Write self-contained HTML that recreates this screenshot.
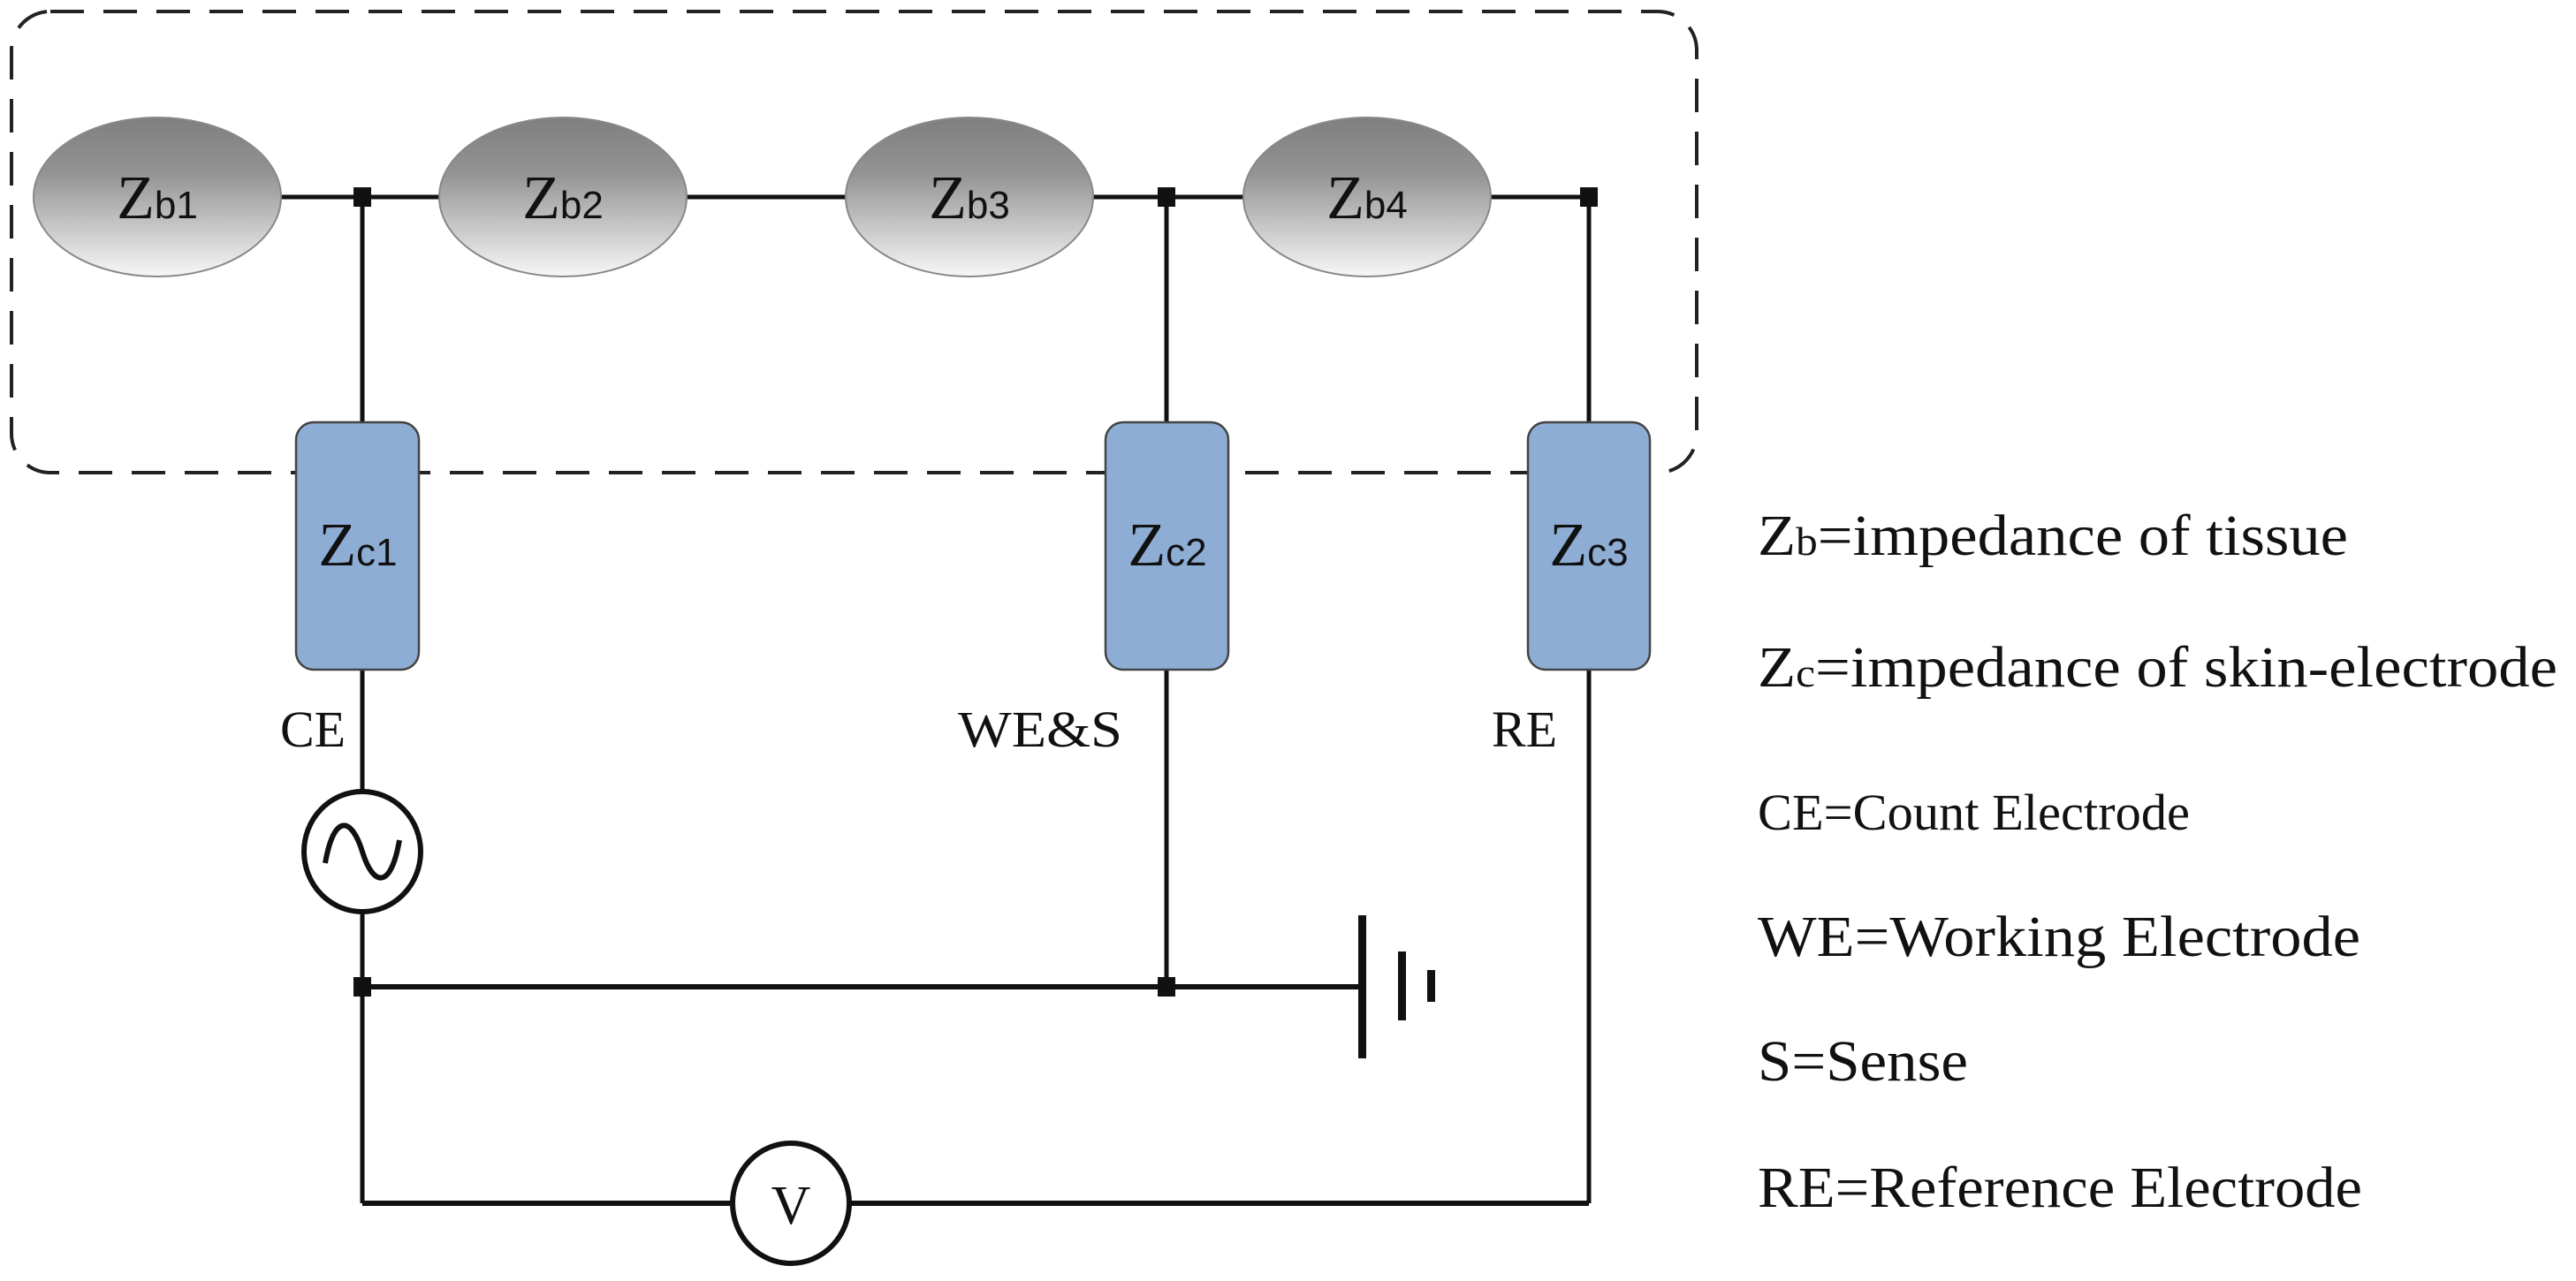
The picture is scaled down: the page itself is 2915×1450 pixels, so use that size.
<!DOCTYPE html>
<html><head><meta charset="utf-8"><style>
html,body{margin:0;padding:0;background:#fff;}
svg{display:block;}
</style></head><body>
<svg width="2915" height="1450" viewBox="0 0 2915 1450" xmlns="http://www.w3.org/2000/svg">
<defs>
<linearGradient id="g" x1="0" y1="0" x2="0" y2="1">
<stop offset="0" stop-color="#7f7f7f"/><stop offset="0.35" stop-color="#939393"/><stop offset="1" stop-color="#f7f7f7"/>
</linearGradient>
</defs>
<rect x="13" y="13" width="1907" height="522" rx="44" ry="44" fill="none" stroke="#222" stroke-width="4" stroke-dasharray="38,22"/>
<g stroke="#111" stroke-width="5" fill="none">
<line x1="310" y1="223" x2="1798" y2="223"/>
<line x1="410" y1="223" x2="410" y2="480"/>
<line x1="1320" y1="223" x2="1320" y2="480"/>
<line x1="1798" y1="223" x2="1798" y2="480"/>
<line x1="410" y1="758" x2="410" y2="896"/>
<line x1="410" y1="1032" x2="410" y2="1362"/>
<line x1="1320" y1="758" x2="1320" y2="1117"/>
<line x1="1798" y1="758" x2="1798" y2="1362"/>
<line x1="410" y1="1117" x2="1541" y2="1117" stroke-width="6"/>
<line x1="410" y1="1362" x2="1798" y2="1362" stroke-width="6"/>
</g>
<g fill="url(#g)" stroke="#888" stroke-width="2">
<ellipse cx="178" cy="223" rx="140" ry="90"/>
<ellipse cx="637" cy="223" rx="140" ry="90"/>
<ellipse cx="1097" cy="223" rx="140" ry="90"/>
<ellipse cx="1547" cy="223" rx="140" ry="90"/>
</g>
<g fill="#111">
<rect x="400" y="212" width="20" height="22"/>
<rect x="1310" y="212" width="20" height="22"/>
<rect x="1788" y="212" width="20" height="22"/>
<rect x="400" y="1106" width="20" height="22"/>
<rect x="1310" y="1106" width="20" height="22"/>
</g>
<g fill="#8eadd4" stroke="#444" stroke-width="2.5">
<rect x="335" y="478" width="139" height="280" rx="20"/>
<rect x="1251" y="478" width="139" height="280" rx="20"/>
<rect x="1729" y="478" width="138" height="280" rx="20"/>
</g>
<g font-family="Liberation Serif, serif" fill="#111" text-anchor="middle">
<text x="178" y="247" font-size="70"><tspan>Z</tspan><tspan font-family="Liberation Sans, sans-serif" font-size="44">b1</tspan></text>
<text x="637" y="247" font-size="70"><tspan>Z</tspan><tspan font-family="Liberation Sans, sans-serif" font-size="44">b2</tspan></text>
<text x="1097" y="247" font-size="70"><tspan>Z</tspan><tspan font-family="Liberation Sans, sans-serif" font-size="44">b3</tspan></text>
<text x="1547" y="247" font-size="70"><tspan>Z</tspan><tspan font-family="Liberation Sans, sans-serif" font-size="44">b4</tspan></text>
<text x="405" y="640" font-size="70"><tspan>Z</tspan><tspan font-family="Liberation Sans, sans-serif" font-size="44">c1</tspan></text>
<text x="1321" y="640" font-size="70"><tspan>Z</tspan><tspan font-family="Liberation Sans, sans-serif" font-size="44">c2</tspan></text>
<text x="1798" y="640" font-size="70"><tspan>Z</tspan><tspan font-family="Liberation Sans, sans-serif" font-size="44">c3</tspan></text>
</g>
<g font-family="Liberation Serif, serif" fill="#111" font-size="58">
<text x="317" y="845">CE</text>
<text x="1084" y="845" textLength="186" lengthAdjust="spacingAndGlyphs">WE&amp;S</text>
<text x="1688" y="845">RE</text>
</g>
<ellipse cx="410" cy="964" rx="66" ry="68" fill="#fff" stroke="#111" stroke-width="6"/>
<path d="M368 977 C378 920 398 925 410 964 C422 1003 442 1008 452 951" fill="none" stroke="#111" stroke-width="6"/>
<ellipse cx="895" cy="1362" rx="66" ry="68" fill="#fff" stroke="#111" stroke-width="6"/>
<text x="895" y="1385" font-family="Liberation Serif, serif" font-size="62" text-anchor="middle" fill="#111">V</text>
<g fill="#111">
<rect x="1537" y="1036" width="9" height="162"/>
<rect x="1582" y="1077" width="9" height="78"/>
<rect x="1615" y="1098" width="9" height="36"/>
</g>
<g font-family="Liberation Serif, serif" fill="#111" font-size="66">
<text x="1989" y="628" textLength="668" lengthAdjust="spacingAndGlyphs">Z<tspan font-size="46">b</tspan>=impedance of tissue</text>
<text x="1989" y="777" textLength="905" lengthAdjust="spacingAndGlyphs">Z<tspan font-size="46">c</tspan>=impedance of skin-electrode</text>
<text x="1989" y="939" font-size="58" textLength="489" lengthAdjust="spacingAndGlyphs">CE=Count Electrode</text>
<text x="1989" y="1082" textLength="682" lengthAdjust="spacingAndGlyphs">WE=Working Electrode</text>
<text x="1989" y="1223" textLength="238" lengthAdjust="spacingAndGlyphs">S=Sense</text>
<text x="1989" y="1366" textLength="684" lengthAdjust="spacingAndGlyphs">RE=Reference Electrode</text>
</g>
</svg>
</body></html>
